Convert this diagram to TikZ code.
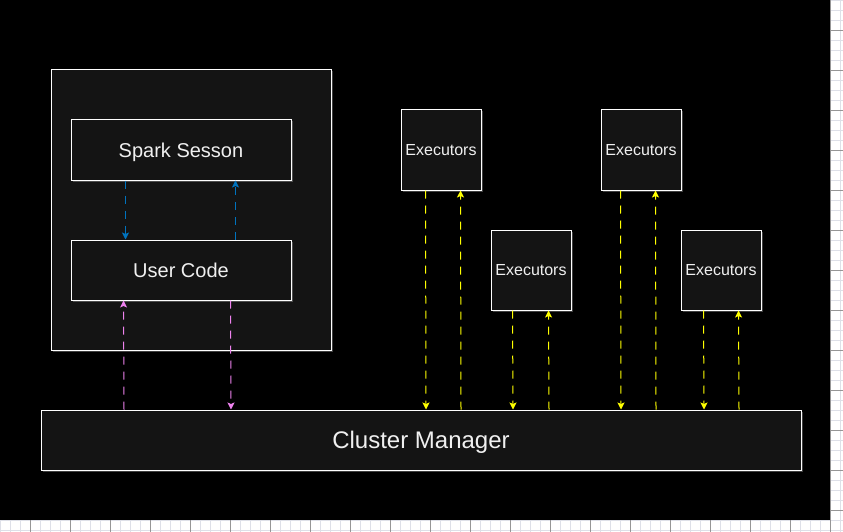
\documentclass[tikz,border=0pt]{standalone}
\usepackage{fontspec}
\setmainfont{Liberation Sans}
\usetikzlibrary{arrows.meta,shadows}
\definecolor{boxgray}{RGB}{20,20,20}
\definecolor{textwhite}{RGB}{240,240,240}
\definecolor{linkblue}{RGB}{0,115,190}
\definecolor{linkpink}{RGB}{238,130,238}
\definecolor{linkyellow}{RGB}{255,255,0}
\definecolor{gridminor}{RGB}{222,224,232}
\definecolor{gridmajor}{RGB}{150,150,150}

\begin{document}
\begin{tikzpicture}[x=1pt, y=-1pt,
  squarednode/.style={rectangle, draw=white, line width=1pt, fill=boxgray, text=textwhite, inner sep=0pt, text depth=0pt,
    drop shadow={shadow xshift=1.5pt, shadow yshift=-1.5pt, fill=white, opacity=.25}},
  execnode/.style={squarednode, minimum size=80pt, font=\fontsize{16}{19}\selectfont},
  link/.style={line width=1pt, dash pattern=on 8pt off 7pt, -{Stealth[length=7pt, width=7pt, inset=1.5pt]}},
  ]

\useasboundingbox (0,0) rectangle (843,532);
\fill[white] (0,0) rectangle (843,532);
\foreach \gx in {0,10,...,840} \draw[gridminor, line width=.6pt] (\gx,0) -- (\gx,532);
\foreach \gy in {0,10,...,530} \draw[gridminor, line width=.6pt] (0,\gy) -- (843,\gy);
\foreach \gx in {30,70,...,830} \draw[gridmajor, line width=.6pt] (\gx,0) -- (\gx,532);
\foreach \gy in {30,70,...,510} \draw[gridmajor, line width=.6pt] (0,\gy) -- (843,\gy);
\fill[black] (0,0) rectangle (830,520);

\node[squarednode, minimum width=280pt, minimum height=280pt] (driver) at (191,210) {};
\node[squarednode, minimum width=220pt, minimum height=60pt, font=\fontsize{20}{24}\selectfont] (ss) at (181,150) {Spark Sesson};
\node[squarednode, minimum width=220pt, minimum height=60pt, font=\fontsize{20}{24}\selectfont] (uc) at (181,270) {User Code};

\node[execnode] (e1) at (441,150) {Executors};
\node[execnode] (e2) at (531,270) {Executors};
\node[execnode] (e3) at (641,150) {Executors};
\node[execnode] (e4) at (721,270) {Executors};

\node[squarednode, minimum width=760pt, minimum height=60pt, font=\fontsize{24}{28}\selectfont] (cm) at (421,440) {Cluster Manager};

\draw[link, linkblue] ([xshift=55pt]ss.south west) -- ([xshift=55pt]uc.north west);
\draw[link, linkblue] ([xshift=165pt]uc.north west) -- ([xshift=165pt]ss.south west);
\draw[link, linkpink] ([xshift=-297pt]cm.north) -- ([xshift=53pt]uc.south west);
\draw[link, linkpink] ([xshift=160pt]uc.south west) -- ([xshift=-190pt]cm.north);

\draw[link, linkyellow] ([xshift=25pt]e1.south west) -- ([xshift=5pt]cm.north);
\draw[link, linkyellow] ([xshift=40pt]cm.north) -- ([xshift=60pt]e1.south west);
\draw[link, linkyellow] ([xshift=22pt]e2.south west) -- ([xshift=92pt]cm.north);
\draw[link, linkyellow] ([xshift=128pt]cm.north) -- ([xshift=58pt]e2.south west);
\draw[link, linkyellow] ([xshift=20pt]e3.south west) -- ([xshift=200pt]cm.north);
\draw[link, linkyellow] ([xshift=235pt]cm.north) -- ([xshift=55pt]e3.south west);
\draw[link, linkyellow] ([xshift=23pt]e4.south west) -- ([xshift=283pt]cm.north);
\draw[link, linkyellow] ([xshift=318pt]cm.north) -- ([xshift=58pt]e4.south west);

\end{tikzpicture}
\end{document}
